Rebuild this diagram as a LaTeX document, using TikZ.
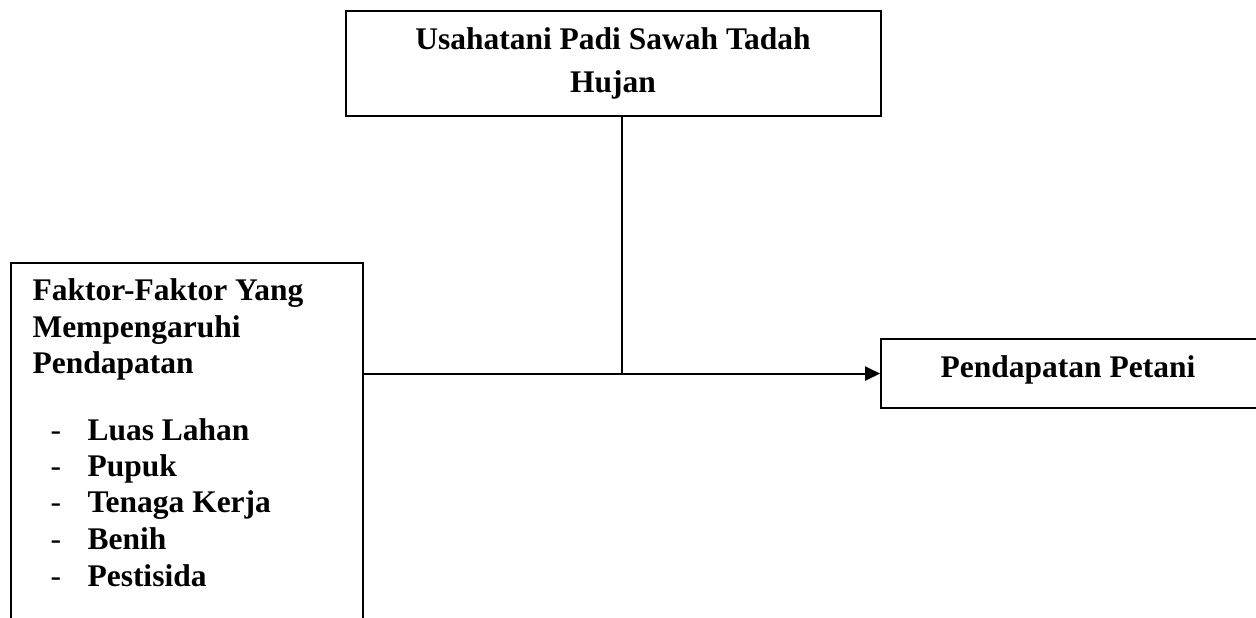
\documentclass[tikz,border=0pt]{standalone}
\usepackage{fontspec}
\setmainfont{Liberation Serif}
\usetikzlibrary{arrows.meta}
\begin{document}
\begin{tikzpicture}[x=0.381pt,y=-0.381pt,
  box/.style={draw,line width=0.8pt,inner sep=0pt,anchor=north west},
  txt/.style={inner sep=0pt,font=\fontsize{12}{14}\selectfont\bfseries},
  conn/.style={line width=0.8pt},
  arr/.style={line width=0.8pt,-{Triangle[length=5.7pt,width=5.4pt]}}]
\useasboundingbox (0,0) rectangle (1256,617);
\clip (0,0) rectangle (1256,617);
\fill[white] (0,0) rectangle (1256,617);
% boxes
\node[box,minimum width=535*0.381pt,minimum height=105*0.381pt] (top) at (345,10) {};
\node[box,minimum width=352*0.381pt,minimum height=420*0.381pt] (left) at (10,262) {};
\node[box,minimum width=420*0.381pt,minimum height=69*0.381pt] (right) at (880,338) {};
% texts
\node[txt,anchor=base] (t1) at (613,49) {Usahatani Padi Sawah Tadah};
\node[txt,anchor=base] (t2) at (613,92) {Hujan};
\node[txt,anchor=base west] (l1) at (32,300) {Faktor-Faktor Yang};
\node[txt,anchor=base west] (l2) at (32,337) {Mempengaruhi};
\node[txt,anchor=base west] (l3) at (32,373) {Pendapatan};
\foreach \n/\s/\yy in {a/Luas Lahan/440,b/Pupuk/476,c/Tenaga Kerja/512,d/Benih/549,e/Pestisida/586}{
  \node[txt,anchor=base west] (d\n) at (50,\yy) {\mdseries -};
  \node[txt,anchor=base west] (i\n) at (87,\yy) {\s};
}
\node[txt,anchor=base] (r1) at (1068,377) {Pendapatan Petani};
% connectors
\coordinate (j) at (622,373);
\draw[arr] (left.east |- right.west) -- (right.west);
\draw[conn] (top.south -| j) -- (j |- right.west);
\end{tikzpicture}
\end{document}
